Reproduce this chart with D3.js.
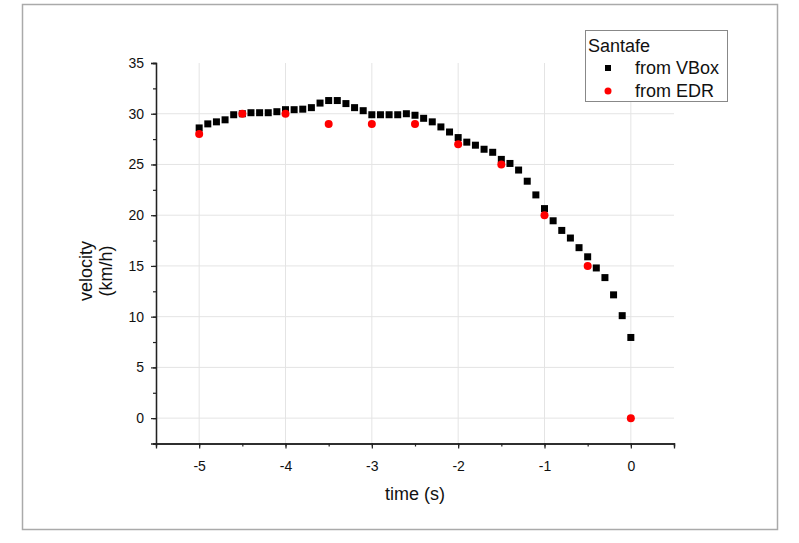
<!DOCTYPE html>
<html><head><meta charset="utf-8">
<script src="https://cdn.jsdelivr.net/npm/d3@7"></script>
<style>body{margin:0;background:#fff}svg{display:block}text{font-family:"Liberation Sans",Arial,sans-serif}</style>
</head><body><svg id="c" width="799" height="543"></svg>
<script>
const vboxTime = [-5.0,-4.9,-4.8,-4.7,-4.6,-4.5,-4.4,-4.3,-4.2,-4.1,-4.0,-3.9,-3.8,-3.7,-3.6,-3.5,-3.4,-3.3,-3.2,-3.1,-3.0,-2.9,-2.8,-2.7,-2.6,-2.5,-2.4,-2.3,-2.2,-2.1,-2.0,-1.9,-1.8,-1.7,-1.6,-1.5,-1.4,-1.3,-1.2,-1.1,-1.0,-0.9,-0.8,-0.7,-0.6,-0.5,-0.4,-0.3,-0.2,-0.1,0.0];
const vboxVel = [28.6,29.0,29.2,29.4,29.9,30.0,30.1,30.1,30.1,30.2,30.4,30.4,30.45,30.6,31.05,31.3,31.3,31.0,30.6,30.3,29.9,29.9,29.9,29.9,30.0,29.85,29.55,29.2,28.7,28.2,27.65,27.2,26.9,26.5,26.2,25.5,25.1,24.45,23.35,22.0,20.65,19.45,18.5,17.75,16.8,15.9,14.8,13.85,12.15,10.1,7.95];
const edrTime = [-5.0,-4.5,-4.0,-3.5,-3.0,-2.5,-2.0,-1.5,-1.0,-0.5,0.0];
const edrVel = [28,30,30,29,29,29,27,25,20,15,0];
const xTicks = [-5,-4,-3,-2,-1,0];
const yTicks = [0,5,10,15,20,25,30,35];
const legendTitle = "Santafe";
const seriesNames = ["from VBox","from EDR"];
const xTitle = "time (s)";
const yTitleLines = ["velocity","(km/h)"];

const svg = d3.select("#c");
svg.append("rect").attr("x",22.5).attr("y",4.5).attr("width",755).attr("height",525)
  .attr("fill","none").attr("stroke","#aaa").attr("stroke-width",1.5);

const x = d3.scaleLinear().domain([-5.5,0.5]).range([156,674]);
const y = d3.scaleLinear().domain([-2.5,35]).range([443.5,63]);

// grid
const g = svg.append("g");
g.selectAll(".vg").data(xTicks).join("line")
  .attr("x1",d=>x(d)).attr("x2",d=>x(d)).attr("y1",63).attr("y2",443.5)
  .attr("stroke","#e4e4e4").attr("stroke-width",1);
g.selectAll(".hg").data(yTicks.filter(d=>d<35)).join("line")
  .attr("x1",156).attr("x2",674).attr("y1",d=>y(d)).attr("y2",d=>y(d))
  .attr("stroke","#e4e4e4").attr("stroke-width",1);

// axes
const fmt = d => String(d);
const xAxis = d3.axisBottom(x).tickValues(xTicks).tickSize(5).tickPadding(13).tickFormat(fmt);
const xMinor = d3.axisBottom(x).tickValues(d3.range(-5.5,0.51,0.5)).tickSize(3).tickFormat("");
const yAxis = d3.axisLeft(y).tickValues(yTicks).tickSize(5).tickPadding(7).tickFormat(fmt);
const yMinor = d3.axisLeft(y).tickValues(d3.range(-2.5,35.1,2.5)).tickSize(3).tickFormat("");

function style(sel){
  sel.selectAll("path").attr("stroke","#222").attr("stroke-width",1.3);
  sel.selectAll("line").attr("stroke","#222").attr("stroke-width",1.2);
  sel.selectAll("text").attr("font-size",14).attr("fill","#111").attr("font-family","Liberation Sans, Arial, sans-serif");
}
svg.append("g").attr("transform","translate(0,443.5)").call(xMinor).call(style);
svg.append("g").attr("transform","translate(0,443.5)").call(xAxis).call(style);
svg.append("g").attr("transform","translate(156,0)").call(yMinor).call(style);
svg.append("g").attr("transform","translate(156,0)").call(yAxis).call(style);

// axis titles
svg.append("text").attr("x",x(-2.5)).attr("y",500).attr("text-anchor","middle")
  .attr("font-size",18).attr("fill","#111").text(xTitle);
svg.append("text").attr("transform",`translate(92,271) rotate(-90)`).attr("text-anchor","middle")
  .attr("font-size",18).attr("fill","#111").text(yTitleLines[0]);
svg.append("text").attr("transform",`translate(112,271) rotate(-90)`).attr("text-anchor","middle")
  .attr("font-size",18).attr("fill","#111").text(yTitleLines[1]);

// data
const vbox = vboxTime.map((t,i)=>({t,v:vboxVel[i]}));
const edr = edrTime.map((t,i)=>({t,v:edrVel[i]}));
const sq = 7;
svg.append("g").selectAll("rect").data(vbox).join("rect")
  .attr("x",d=>x(d.t)-sq/2).attr("y",d=>y(d.v)-sq/2).attr("width",sq).attr("height",sq).attr("fill","#000");
svg.append("g").selectAll("circle").data(edr).join("circle")
  .attr("cx",d=>x(d.t)).attr("cy",d=>y(d.v)).attr("r",4).attr("fill","#f00");

// legend
const lg = svg.append("g");
lg.append("rect").attr("x",585.5).attr("y",30.5).attr("width",142).attr("height",71)
  .attr("fill","#fff").attr("stroke","#888").attr("stroke-width",1);
lg.append("text").attr("x",588).attr("y",52).attr("font-size",18).attr("fill","#111").text(legendTitle);
lg.append("rect").attr("x",608-3).attr("y",68-3).attr("width",6).attr("height",6).attr("fill","#000");
lg.append("circle").attr("cx",608).attr("cy",91).attr("r",3.5).attr("fill","#f00");
lg.append("text").attr("x",635).attr("y",74).attr("font-size",18).attr("fill","#111").text(seriesNames[0]);
lg.append("text").attr("x",635).attr("y",97).attr("font-size",18).attr("fill","#111").text(seriesNames[1]);
</script></body></html>
